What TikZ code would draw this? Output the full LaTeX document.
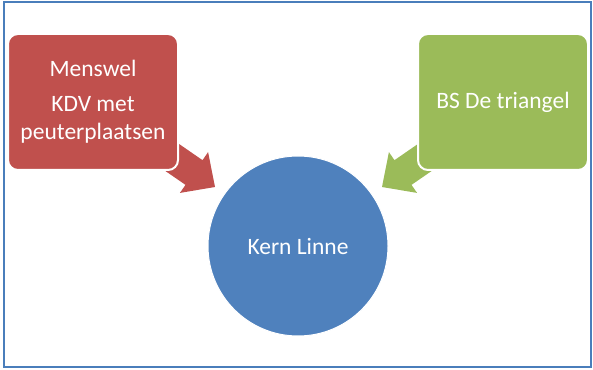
\documentclass[tikz,border=0pt]{standalone}
\usepackage{fontspec}
\setmainfont{Carlito}
\usetikzlibrary{calc}
\definecolor{boxred}{HTML}{C0504D}
\definecolor{boxgreen}{HTML}{9BBB59}
\definecolor{boxblue}{HTML}{4F81BD}
\definecolor{framecol}{HTML}{4A7EBB}
\tikzset{
 block/.style={draw=white,line width=2pt,rounded corners=10pt,minimum width=170pt,minimum height=136pt,text=white,align=center,font=\fontsize{23.5}{28}\selectfont},
 hub/.style={circle,draw=white,line width=1pt,minimum size=180pt,text=white,font=\fontsize{23.5}{28}\selectfont}
}
\begin{document}
\begin{tikzpicture}[x=1pt,y=1pt]
\useasboundingbox (0,0) rectangle (593,369);
\draw[framecol,line width=1.2pt] (4,2) rectangle (591,367);
% block arrows first, boxes cover their tails
\coordinate (redtip) at (215,182);
\coordinate (greentip) at (382,182);
\begin{scope}[shift={(redtip)},rotate=-34.6] %left arrow
\fill[boxred] (0,0) -- (-25.5,24.8) -- (-25.5,15) -- (-75,15)
 -- (-75,-15) -- (-25.5,-15) -- (-25.5,-24.8) -- cycle;
\end{scope}
\begin{scope}[shift={(greentip)},rotate=214.6] %right arrow
\fill[boxgreen] (0,0) -- (-25.5,24.8) -- (-25.5,15) -- (-75,15)
 -- (-75,-15) -- (-25.5,-15) -- (-25.5,-24.8) -- cycle;
\end{scope}
\node[block,fill=boxred] (menswel) at (93,267) {Menswel\\[7pt]KDV met\\peuterplaatsen};
\node[block,fill=boxgreen] (triangel) at (503,267) {BS De triangel};
\node[hub,fill=boxblue] (kern) at (298,123) {Kern Linne};
\end{tikzpicture}
\end{document}
